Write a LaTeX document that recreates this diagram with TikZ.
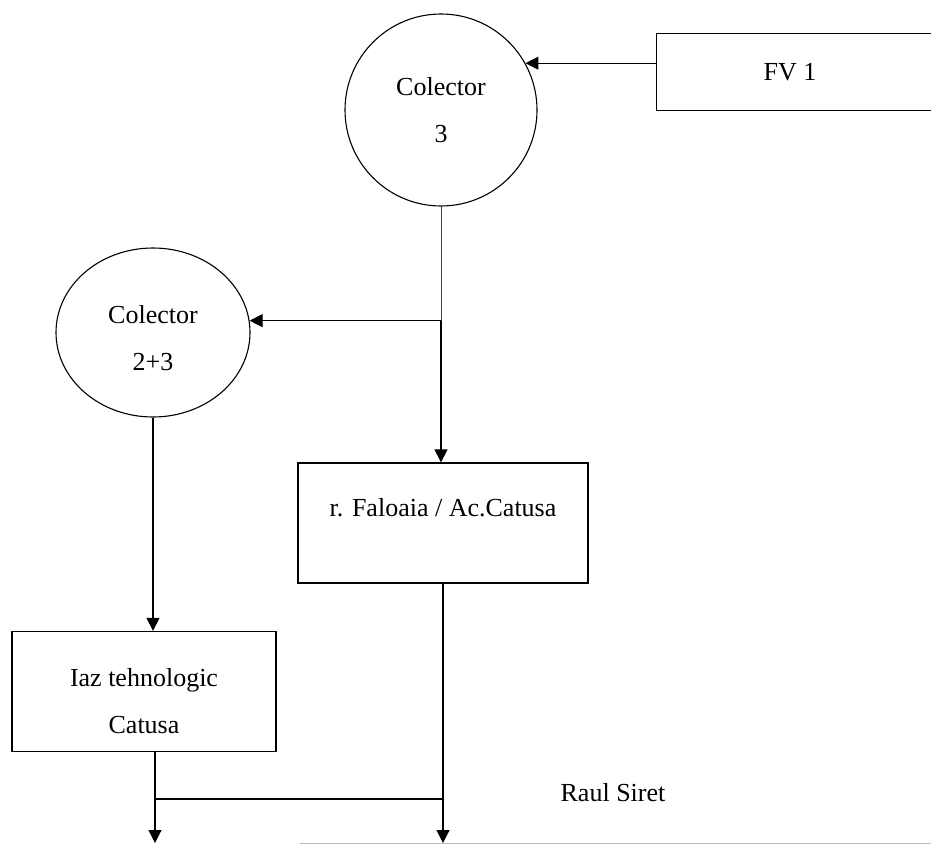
\documentclass[tikz,border=0pt]{standalone}
\usepackage{fontspec}
\setmainfont{Liberation Serif}
\usetikzlibrary{arrows.meta,shapes.geometric}
\begin{document}
\begin{tikzpicture}[x=1pt,y=-1pt,
  every node/.style={font=\fontsize{26}{47}\selectfont},
  boxnode/.style={draw,line width=1.3pt,rectangle,inner sep=0pt,align=center},
  circnode/.style={draw,line width=1.1pt,circle,inner sep=0pt,align=center},
  ovalnode/.style={draw,line width=1.1pt,ellipse,inner sep=0pt,align=center},
  link/.style={line width=1.1pt},
  thinlink/.style={line width=0.9pt,black!75},
  arr/.style={line width=1.1pt,-{Triangle[length=13pt,width=13pt]}},
  plain/.style={inner sep=0pt}]
\useasboundingbox (0,0) rectangle (931,845);
\begin{scope}
\clip (0,0) rectangle (931,845);
% nodes
\node[circnode,minimum size=192pt] (c3) at (441,110) {Colector\\3};
\node[boxnode,minimum width=290pt,minimum height=77pt,anchor=north west] (fv1) at (656,33) {};
\node[plain] (fvt) at (790,72) {FV 1};
\node[ovalnode,minimum width=194pt,minimum height=169pt,text height=77pt] (c23) at (153,332.5) {Colector\\2+3};
\node[boxnode,minimum width=290pt,minimum height=120pt,text height=18pt,text depth=32pt] (fal) at (443,523) {r. Faloaia / Ac.Catusa};
\node[boxnode,minimum width=264pt,minimum height=120pt,text height=84pt] (iaz) at (144,691.5) {Iaz tehnologic\\Catusa};
\node[plain] (raul) at (613,793) {Raul Siret};
% helper coordinates
\coordinate (j1) at (c3.south |- c23.7);
\coordinate (j2) at (155,799);
\coordinate (b1) at (155,843);
\coordinate (b2) at (fal.south |- b1);
\coordinate (rs) at (300,843.5);
\coordinate (re) at (935,843.5);
% connectors
\draw[arr] (fv1.west |- c3.29) -- (c3.29);
\draw[thinlink] (c3.south) -- (j1);
\draw[arr] (j1) -- (c23.7);
\draw[arr] (j1) -- (fal.north -| j1);
\draw[arr] (c23.south) -- (c23.south |- iaz.north);
\draw[link] (iaz.south -| b1) -- (j2);
\draw[arr] (j2) -- (b1);
\draw[link] (j2) -- (j2 -| fal.south);
\draw[arr] (fal.south) -- (b2);
\draw[line width=1.2pt,gray!55] (rs) -- (re);
\end{scope}
\end{tikzpicture}
\end{document}
